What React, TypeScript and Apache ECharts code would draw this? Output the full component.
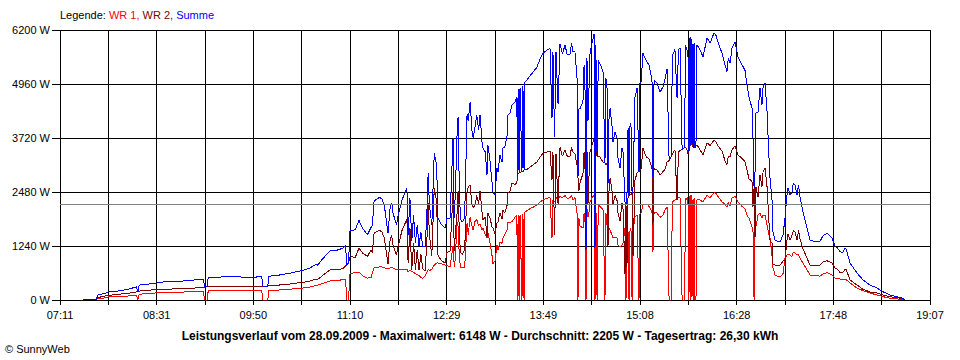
import React, { useEffect, useRef } from "react";
import * as echarts from "echarts";

// x-axis: minutes after 07:11, the chart spans 07:11 .. 19:07
const spanMinutes = 716;
const timeLabels = ["07:11", "08:31", "09:50", "11:10", "12:29", "13:49", "15:08", "16:28", "17:48", "19:07"];
const yMax = 6200;
const yStep = 1240;
const average = 2205;
const caption = "Leistungsverlauf vom 28.09.2009 - Maximalwert: 6148 W - Durchschnitt: 2205 W - Tagesertrag: 26,30 kWh";

const minutes = [
  19, 30, 31, 35, 39, 40, 47, 55, 63, 64, 65, 66, 80, 86, 99, 107, 115, 118, 119, 121, 122, 140, 160, 166, 167, 171, 172, 181, 190, 198, 203, 206, 210, 212, 216, 222, 228, 233, 235, 236, 237.5, 238.5, 240,
  243, 246, 249, 253, 256, 257, 258.5, 263, 265, 267, 269, 270, 271.5, 273, 274, 277, 278, 281.5, 285.5, 286.5, 288, 289.5, 291, 292.5, 294, 295.5, 297, 298.5, 300.5, 302, 303, 304, 306, 307, 308, 310, 311, 314, 317, 318.5, 321,
  323.5, 324.5, 325.5, 326.7, 327.6, 328.5, 329.5, 331, 333, 335,
  336, 337.5, 339, 340, 341.5, 343, 344.5, 345.7, 347.3, 348,
  350, 351.4, 352.2, 354, 355.5, 356.4, 358, 359.6, 360.5, 362,
  363.8, 364.6, 366, 368, 368.7, 370.4, 372, 374.5, 376, 376.5,
  377, 377.8, 378.6, 380.2, 381, 381.9, 382.7, 384.3, 386.8, 389.3,
  392.6, 395, 397.5, 400.8, 403.3, 404.9, 405.7, 407, 408.2, 409.9,
  411.5, 413.5, 415.6, 417.5, 419.7,
  421, 422.2, 423.8, 425.5, 426.3, 427, 428, 430.4, 431.3, 432.1,
  432.9, 433.7, 434.5, 435.3, 436.2, 437.8, 439.5, 440.3, 441, 442,
  443, 444.4, 446.9, 448.5, 449.3, 450.2, 451, 451.8, 452.7, 454.3,
  455.1, 456.8, 458.4, 459.2, 460.9, 462.5, 463.3, 465, 465.8, 466.6,
  467.5, 468.3, 469.1, 469.9, 470.8, 471.6, 473.2, 474.9, 476.5, 477.3,
  478.2, 479.8, 481.5, 483.1, 484.7, 487.2, 488, 488.9, 491.3, 493.8,
  496.3, 497.9, 499.6, 501.3, 503.2, 503.9, 506.1, 507.8, 509, 510.3,
  512, 514, 514.8, 516, 516.8, 517.6, 518.5,
  519.3, 520.1, 521, 521.8, 522.6, 523.4, 524.2, 526.7, 529.2, 532.5,
  535, 538.2, 540, 541.5, 544.8, 547.3, 548.9, 550, 551.4, 553.1,
  555.5, 558, 561.3, 563.7, 565.4, 567, 569.5, 570.3, 571.2, 572,
  572.8, 574.5, 576.1, 577.7, 578.6, 580.2, 581.9, 583.5, 584.3, 586,
  586.8, 588.5, 590.9, 592.6, 595, 596.7, 598.3, 599.2, 600.8, 602.4,
  603.5, 604.9, 606.6, 607.8, 609, 611.5, 614.8, 617.3,
  620, 625.5, 628, 631.3, 635.4, 637.8, 640, 642, 644, 646.1,
  647, 650.2, 655.9, 660.9, 666.6, 672.4, 677.3, 683.1, 688.9, 693.8,
  695.4,
];

const wr1 = [
  5, 5, 38, 40, 60, 90, 75, 90, 110, 0, 120, 135, 165, 175, 180, 190, 195, 200, 0, 0, 210, 210, 215, 215, 0, 0, 220, 230, 250, 270, 285, 300, 330, 340, 380, 436, 445, 470, 480, 0, 0, 600, 610,
  630, 640, 560, 500, 520, 620, 735, 760, 760, 740, 720, 720, 735, 740, 740, 690, 700, 700, 710, 640, 680, 650, 640, 600, 580, 560, 520, 500, 560, 640, 700, 680, 700, 760, 800, 850, 850, 830, 800, 790, 760,
  1250, 760, 1000, 1790, 1700, 1100, 760, 735, 735, 1770,
  1500, 1900, 1700, 1600, 1800, 1850, 1700, 1750, 1600, 1650,
  1500, 1420, 1550, 1300, 1030, 830, 900, 1260, 1150, 1330,
  1300, 1420, 1500, 1610, 1790, 1780, 1800, 1900, 1950, 0,
  1950, 0, 1950, 0, 1970, 0, 2020, 2050, 2100, 2130,
  2180, 2250, 2300, 2340, 2350, 1420, 2300, 2250, 2350, 2300,
  2380, 2350, 2400, 2330, 2350,
  2400, 2300, 2350, 2000, 0, 1880, 1700, 1650, 2000, 1800,
  0, 2100, 1900, 2000, 2250, 2350, 2400, 0, 2300, 0,
  2200, 2150, 2070, 0, 2000, 1720, 1420, 1650, 1600, 1500,
  1420, 1450, 1430, 1260, 1220, 1260, 1300, 1650, 0, 1650,
  1550, 0, 1580, 1650, 0, 1600, 1900, 1950, 0, 1970,
  2000, 2180, 2200, 2200, 2150, 2020, 1100, 2020, 2000, 1900,
  1950, 2070, 2130, 0, 0, 2250, 2300, 2350, 2350, 2340,
  0, 0, 2350, 2300, 2350, 0, 2410,
  0, 2400, 0, 2350, 0, 0, 2300, 2300, 2250, 2410,
  2350, 2460, 2450, 2380, 2250, 2200, 2130, 2250, 2150, 2340,
  2380, 2250, 2150, 2100, 1950, 1880, 1680, 1650, 0, 1500,
  1700, 1950, 2000, 1880, 1950, 1950, 1720, 1500, 1420, 1000,
  735, 575, 540, 530, 600, 960, 1030, 1050, 1030, 1000,
  1100, 1080, 1030, 1050, 960, 850, 690, 575,
  560, 550, 600, 630, 575, 500, 490, 480, 470, 480,
  470, 390, 275, 215, 160, 115, 77, 38, 25, 10,
  0,
];

const wr2 = [
  8, 8, 60, 75, 110, 105, 130, 150, 185, 185, 200, 210, 240, 250, 255, 270, 280, 285, 300, 305, 310, 310, 315, 320, 320, 320, 325, 345, 370, 400, 420, 440, 480, 470, 560, 689, 700, 720, 780, 800, 850, 980, 990,
  980, 1190, 1080, 1000, 1150, 1080, 1540, 1600, 1560, 1420, 1000, 820, 1350, 1490, 1260, 1030, 1200, 1600, 1860, 850, 1660, 700, 1300, 700, 1150, 680, 1050, 720, 660, 1400, 2220, 1500, 1020, 1800, 2570, 2250, 1030, 900, 850, 1090, 1120,
  2480, 1120, 1600, 1950, 2500, 1700, 1100, 1050, 1150, 2500,
  2600, 2650, 2200, 2120, 2170, 2400, 2200, 2500, 2030, 1850,
  1900, 1450, 2000, 1870, 1680, 1650, 1510, 1770, 1790, 2000,
  1870, 2070, 2000, 2180, 2460, 2510, 2680, 2650, 2700, 2850,
  2900, 2920, 2920, 2950, 2950, 2990, 2990, 3000, 3050, 3100,
  3170, 3280, 3370, 3400, 3420, 2750, 3400, 1500, 3350, 2200,
  3500, 3300, 3450, 3300, 3300,
  3500, 3400, 3350, 3100, 2800, 2500, 2700, 2900, 3400, 3000,
  1150, 3450, 2200, 2800, 3400, 3550, 3700, 1200, 3550, 3300,
  3300, 3280, 3170, 3150, 3100, 3150, 1250, 2500, 2800, 2500,
  2200, 2400, 2290, 2000, 1810, 2230, 2150, 600, 2200, 760,
  2400, 2400, 2420, 2410, 2450, 1000, 2750, 2920, 2950, 3000,
  3000, 3490, 3350, 3270, 3250, 3030, 1720, 3020, 2990, 2870,
  2950, 3000, 3170, 3200, 3300, 3350, 3450, 2300, 3400, 3440,
  3450, 3500, 3500, 3450, 3350, 3400, 3630,
  3550, 3600, 3500, 3550, 3500, 3550, 3560, 3450, 3330, 3610,
  3550, 3670, 3620, 3540, 3420, 3200, 3110, 3300, 3290, 3450,
  3540, 3330, 3250, 3180, 2990, 2780, 2730, 2140, 2570, 1440,
  2600, 2370, 2870, 2600, 2940, 3030, 2600, 1760, 1380, 1300,
  825, 800, 800, 800, 890, 920, 1380, 1520, 1380, 1480,
  1590, 1560, 1380, 1600, 1410, 1170, 960, 800,
  790, 800, 880, 900, 850, 735, 700, 630, 620, 710,
  700, 460, 345, 245, 185, 160, 113, 77, 52, 28,
  5,
];

const summe = [
  15, 15, 115, 138, 170, 195, 205, 240, 300, 185, 320, 345, 390, 420, 430, 450, 475, 480, 300, 305, 525, 530, 525, 535, 320, 320, 545, 575, 620, 670, 705, 740, 810, 800, 940, 1125, 1145, 1190, 1260, 800, 850, 1580, 1600,
  1610, 1830, 1650, 1500, 1670, 1700, 2275, 2360, 2320, 2160, 1720, 1540, 2085, 2230, 2000, 1720, 1900, 2300, 2570, 1490, 2340, 1350, 1940, 1300, 1730, 1240, 1570, 1220, 1220, 2040, 2920, 2180, 1720, 2560, 3370, 3100, 1880, 1730, 1650, 1880, 1880,
  3730, 1880, 2600, 3740, 4200, 2800, 1860, 1790, 1880, 4270,
  4100, 4550, 3900, 3720, 3970, 4250, 3900, 4250, 3630, 3500,
  3400, 2870, 3550, 3170, 2710, 2480, 2410, 3030, 2940, 3330,
  3170, 3490, 3500, 3790, 4250, 4290, 4480, 4550, 4650, 2850,
  4850, 2920, 4870, 2950, 4920, 2990, 5010, 5050, 5150, 5230,
  5350, 5530, 5670, 5740, 5770, 4170, 5700, 3750, 5700, 4500,
  5880, 5650, 5850, 5630, 5650,
  5900, 5700, 5700, 5100, 2800, 4380, 4400, 4550, 5400, 4800,
  1150, 5550, 4100, 4800, 5650, 5900, 6100, 1200, 5850, 3300,
  5500, 5430, 5240, 3150, 5100, 4870, 2670, 4150, 4400, 4000,
  3620, 3850, 3720, 3260, 3030, 3490, 3450, 2250, 2200, 2410,
  3950, 2400, 4000, 4060, 2450, 2600, 4650, 4870, 2950, 4970,
  5000, 5670, 5550, 5470, 5400, 5050, 2820, 5040, 4990, 4770,
  4900, 5070, 5300, 3200, 3300, 5600, 5750, 4650, 5750, 5780,
  3450, 3500, 5850, 5750, 5700, 3400, 6040,
  3550, 6000, 3500, 5900, 3500, 3550, 5860, 5750, 5580, 6020,
  5900, 6130, 6070, 5920, 5670, 5400, 5240, 5550, 5440, 5790,
  5920, 5580, 5400, 5280, 4940, 4660, 4410, 3790, 2570, 2940,
  4300, 4320, 4870, 4480, 4890, 4980, 4320, 3260, 2800, 2300,
  1560, 1380, 1340, 1330, 1490, 1880, 2410, 2570, 2410, 2480,
  2690, 2640, 2410, 2650, 2370, 2020, 1650, 1375,
  1350, 1350, 1480, 1530, 1425, 1235, 1190, 1110, 1090, 1190,
  1170, 850, 620, 460, 345, 275, 190, 115, 77, 38,
  5,
];

const FONT = '"Liberation Sans", Arial, sans-serif';

export default function App() {
  const ref = useRef<HTMLDivElement>(null);

  useEffect(() => {
    if (!ref.current) return;
    const chart = echarts.init(ref.current, undefined, { renderer: "svg" });
    const toData = (vals: number[]) => minutes.map((m, i) => [m, vals[i]]);
    const gridStep = spanMinutes / 18;
    const lineSeries = (name: string, color: string, vals: number[], z: number) => ({
      name,
      type: "line",
      data: toData(vals),
      symbol: "none",
      showSymbol: false,
      silent: true,
      z,
      lineStyle: { color, width: 1 },
      itemStyle: { color },
      emphasis: { disabled: true },
    });

    chart.setOption({
      animation: false,
      backgroundColor: "#ffffff",
      textStyle: { fontFamily: FONT },
      title: [
        {
          left: 60,
          top: 9,
          padding: 0,
          text: "{k|Legende: }{a|WR 1, }{b|WR 2, }{c|Summe}",
          textStyle: {
            fontSize: 11,
            fontWeight: "normal",
            fontFamily: FONT,
            rich: {
              k: { color: "#000000", fontSize: 11, fontFamily: FONT },
              a: { color: "#ff0000", fontSize: 11, fontFamily: FONT },
              b: { color: "#800000", fontSize: 11, fontFamily: FONT },
              c: { color: "#0000ff", fontSize: 11, fontFamily: FONT },
            },
          },
        },
        {
          left: "center",
          top: 330,
          padding: 0,
          text: caption,
          textStyle: { fontSize: 12, fontWeight: "bold", color: "#000000", fontFamily: FONT },
        },
        {
          left: 5,
          top: 343,
          padding: 0,
          text: "© SunnyWeb",
          textStyle: { fontSize: 11, fontWeight: "normal", color: "#000000", fontFamily: FONT },
        },
      ],
      grid: { left: 60, right: 30, top: 30, bottom: 60, containLabel: false },
      xAxis: {
        type: "value",
        min: 0,
        max: spanMinutes,
        interval: gridStep,
        axisLine: { show: true, onZero: false, lineStyle: { color: "#000000", width: 1 } },
        axisTick: { show: true, length: 5, lineStyle: { color: "#000000", width: 1 } },
        axisLabel: {
          color: "#000000",
          fontSize: 11,
          fontFamily: FONT,
          margin: 9,
          showMinLabel: true,
          showMaxLabel: true,
          formatter: (v: number) => {
            const i = Math.round(v / gridStep);
            if (i % 2 !== 0) return "";
            return timeLabels[i / 2] ?? "";
          },
        },
        splitLine: { show: true, lineStyle: { color: "#000000", width: 1 } },
      },
      yAxis: {
        type: "value",
        min: 0,
        max: yMax,
        interval: yStep,
        axisLine: { show: true, lineStyle: { color: "#000000", width: 1 } },
        axisTick: { show: true, length: 8, lineStyle: { color: "#000000", width: 1 } },
        axisLabel: {
          color: "#000000",
          fontSize: 11,
          fontFamily: FONT,
          margin: 10,
          formatter: (v: number) => `${v} W`,
        },
        splitLine: { show: true, lineStyle: { color: "#000000", width: 1 } },
      },
      series: [
        lineSeries("WR 1", "#ff0000", wr1, 2),
        lineSeries("WR 2", "#800000", wr2, 3),
        {
          ...lineSeries("Summe", "#0000ff", summe, 4),
          markLine: {
            silent: true,
            symbol: "none",
            animation: false,
            label: { show: false },
            lineStyle: { color: "#808080", width: 1, type: "solid" },
            emphasis: { disabled: true },
            data: [{ yAxis: average }],
          },
        },
      ],
    });

    return () => chart.dispose();
  }, []);

  return (
    <>
      <style>{"#sunny-chart svg path{shape-rendering:crispEdges}"}</style>
      <div
        id="sunny-chart"
        ref={ref}
        style={{ position: "absolute", left: 0, top: 0, width: 960, height: 360, background: "#ffffff" }}
      />
    </>
  );
}
